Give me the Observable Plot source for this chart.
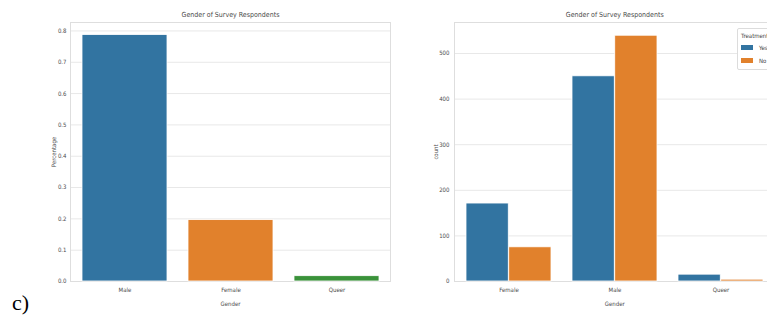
<!DOCTYPE html>
<html>
<head>
<meta charset="utf-8">
<script src="https://cdn.jsdelivr.net/npm/d3@7"></script>
<script src="https://cdn.jsdelivr.net/npm/@observablehq/plot@0.6"></script>
<style>
  html, body { margin: 0; padding: 0; background: #fff; }
  #wrap { position: relative; width: 767px; height: 322px; overflow: hidden; background: #fff; }
  .panel { position: absolute; top: 0; width: 395px; height: 322px; }
  .panel svg { overflow: visible; max-width: none !important; font-stretch: condensed; }
  #tag { position: absolute; left: 12px; top: 290px; font-family: "Liberation Serif", "DejaVu Serif", serif; font-size: 22px; color: #000; }
  #legend { position: absolute; left: 737px; top: 28px; width: 60px; height: 40px; background: #fff;
            border: 1px solid #dcdcdc; border-radius: 2px; font-family: "DejaVu Sans Condensed", "DejaVu Sans", sans-serif;
            font-stretch: condensed; font-size: 6px; color: #444; }
  #legend .t { position: absolute; left: 3px; top: 3px; }
  #legend .row { position: absolute; left: 3px; display: flex; align-items: center; }
  #legend .sw { width: 12px; height: 5px; margin-right: 6px; }
</style>
</head>
<body>
<div id="wrap">
  <div id="left" class="panel" style="left:0px"></div>
  <div id="right" class="panel" style="left:390px"></div>
  <div id="legend"></div>
  <div id="tag">c)</div>
</div>
<script>
// Share of respondents by gender
const genders = ["Male", "Female", "Queer"];
const shares = [0.787, 0.196, 0.017];
const shareColors = ["#3274a1", "#e1812c", "#3a923a"];
const shareTicks = [0, 0.1, 0.2, 0.3, 0.4, 0.5, 0.6, 0.7, 0.8];

// Respondent counts by gender, split by whether they sought treatment
const countGenders = ["Female", "Male", "Queer"];
const treatments = ["Yes", "No"];
const countYes = [171, 450, 15];
const countNo = [75, 539, 4];
const countTicks = [0, 100, 200, 300, 400, 500];
const treatmentColors = ["#3274a1", "#e1812c"];

const title = "Gender of Survey Respondents";
const font = "'DejaVu Sans Condensed', 'DejaVu Sans', sans-serif";
const ink = "#4a4a4a";
const gridColor = "#e8e8e8";
const frameColor = "#dedede";

const shareData = genders.map((g, i) => ({gender: g, share: shares[i]}));
const countData = [];
countGenders.forEach((g, i) => {
  countData.push({gender: g, treatment: "Yes", count: countYes[i]});
  countData.push({gender: g, treatment: "No", count: countNo[i]});
});

// Background grid and frame, drawn beneath the bars
function under(yTicks) {
  return [
    Plot.gridY(yTicks, {stroke: gridColor, strokeOpacity: 1, strokeWidth: 1}),
    Plot.frame({stroke: frameColor, strokeWidth: 1})
  ];
}

// Axes and title, drawn above the bars
function over(yTicks, yFormat, yLabel, yPad, yLabelOffset) {
  return [
    Plot.axisY(yTicks, {tickSize: 0, tickPadding: yPad, tickFormat: yFormat, fill: ink,
      label: yLabel, labelAnchor: "center", labelArrow: "none", labelOffset: yLabelOffset}),
    Plot.axisX({tickSize: 0, tickPadding: 6, fill: ink, label: "Gender",
      labelAnchor: "center", labelArrow: "none", labelOffset: 24}),
    Plot.text([title], {frameAnchor: "top", dy: -10, fill: ink, fontSize: 7})
  ];
}

// Left panel: percentage of respondents
const left = Plot.plot({
  width: 395, height: 322,
  marginLeft: 70, marginRight: 5, marginTop: 22, marginBottom: 41,
  style: {fontFamily: font, fontSize: "6px", background: "transparent"},
  x: {domain: genders, paddingInner: 0.2, paddingOuter: 0.1},
  y: {domain: [0, 0.827]},
  color: {domain: genders, range: shareColors},
  marks: [
    ...under(shareTicks),
    Plot.barY(shareData, {x: "gender", y: "share", fill: "gender", stroke: "#fff", strokeWidth: 0.8}),
    ...over(shareTicks, d3.format(".1f"), "Percentage", 4, 19)
  ]
});
document.getElementById("left").append(left);

// Right panel: counts grouped by treatment (side-by-side bars within each gender band)
const rW = 395, rML = 64, rMR = 10.5;
const half = ((rW - rML - rMR) / countGenders.length) * 0.8 / 2;
const right = Plot.plot({
  width: rW, height: 322,
  marginLeft: rML, marginRight: rMR, marginTop: 22, marginBottom: 41,
  style: {fontFamily: font, fontSize: "6px", background: "transparent"},
  x: {domain: countGenders, paddingInner: 0.2, paddingOuter: 0.1},
  y: {domain: [0, 568]},
  color: {domain: treatments, range: treatmentColors},
  marks: [
    ...under(countTicks),
    Plot.barY(countData.filter(d => d.treatment === "Yes"),
      {x: "gender", y: "count", fill: "treatment", stroke: "#fff", strokeWidth: 0.8, insetRight: half}),
    Plot.barY(countData.filter(d => d.treatment === "No"),
      {x: "gender", y: "count", fill: "treatment", stroke: "#fff", strokeWidth: 0.8, insetLeft: half}),
    ...over(countTicks, d3.format("d"), "count", 5, 21)
  ]
});
document.getElementById("right").append(right);

// Legend box for the treatment colours
const legend = document.getElementById("legend");
const t = document.createElement("div");
t.className = "t";
t.textContent = "Treatment";
legend.append(t);
treatments.forEach((name, i) => {
  const row = document.createElement("div");
  row.className = "row";
  row.style.top = (15 + i * 13) + "px";
  const sw = document.createElement("span");
  sw.className = "sw";
  sw.style.background = treatmentColors[i];
  const lab = document.createElement("span");
  lab.textContent = name;
  row.append(sw, lab);
  legend.append(row);
});
</script>
</body>
</html>
